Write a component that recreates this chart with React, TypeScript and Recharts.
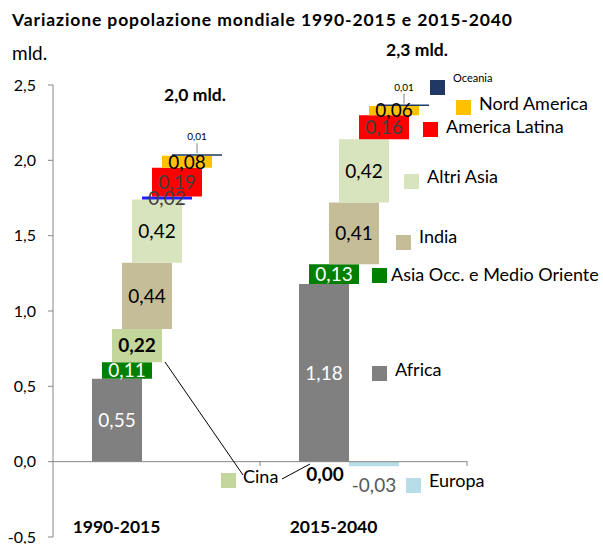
import React from "react";
import { BarChart, Bar, XAxis, YAxis, ReferenceLine, LabelList, Cell } from "recharts";

const categories = ["1990-2015", "2015-2040"];
const regions = [
  "Africa",
  "Asia Occ. e Medio Oriente",
  "Cina",
  "India",
  "Altri Asia",
  "Europa",
  "America Latina",
  "Nord America",
  "Oceania",
];
const africa = [0.55, 1.18];
const asiaOcc = [0.11, 0.13];
const cina = [0.22, 0.0];
const india = [0.44, 0.41];
const altriAsia = [0.42, 0.42];
const europa = [0.02, -0.03];
const americaLatina = [0.19, 0.16];
const nordAmerica = [0.08, 0.06];
const oceania = [0.01, 0.01];
const totals = [2.0, 2.3];
const yTicks = [-0.5, 0, 0.5, 1, 1.5, 2, 2.5];

const seriesValues = [africa, asiaOcc, cina, india, altriAsia, europa, americaLatina, nordAmerica, oceania];
const seriesKeys = ["africa", "asiaOcc", "cina", "india", "altriAsia", "europa", "americaLatina", "nordAmerica", "oceania"];
const colors = ["#808080", "#008000", "#C3D69B", "#C4BD97", "#D7E4BD", "#B7DEE8", "#FF0000", "#FFC000", "#1F3864"];
const europaColors = ["#1F1FFF", "#B7DEE8"];
const labelColors = ["#FFFFFF", "#FFFFFF", "#000000", "#000000", "#000000", "#404040", "#404040", "#000000", "#000000"];

const FONT = "Lato, 'DejaVu Sans', sans-serif";
const fmt = (v: number, d = 2) => v.toFixed(d).replace(".", ",");

const data = categories.map((cat, ci) => {
  const row: any = { cat };
  let cum = 0;
  seriesValues.forEach((vals, si) => {
    const v = vals[ci];
    if (v < 0) row[seriesKeys[si]] = [v, 0];
    else {
      row[seriesKeys[si]] = [cum, cum + v];
      cum += v;
    }
  });
  return row;
});

const makeLabel = (si: number) => (props: any) => {
  const { x, y, width, height, index } = props;
  const v = seriesValues[si][index];
  const cx = x + width / 2;
  const top = Math.min(y, y + height);
  const bottom = Math.max(y, y + height);
  const cy = (top + bottom) / 2;
  if (v === 0) return null;
  if (si === 8) {
    return (
      <g>
        <line x1={cx} y1={top - 11} x2={cx} y2={top - 1} stroke="#808080" strokeWidth={1} />
        <text x={cx} y={top - 14} textAnchor="middle" fontSize={10} fontFamily={FONT} fill="#000">
          {fmt(v)}
        </text>
      </g>
    );
  }
  if (v < 0) {
    return (
      <text x={cx} y={bottom + 26} textAnchor="middle" fontSize={19} fontFamily={FONT} fill="#595959">
        {fmt(v)}
      </text>
    );
  }
  return (
    <text
      x={cx}
      y={cy}
      dy="0.36em"
      textAnchor="middle"
      fontSize={19}
      fontWeight={si === 2 ? "bold" : "normal"}
      fontFamily={FONT}
      fill={labelColors[si]}
    >
      {fmt(v)}
    </text>
  );
};

const catOffsets = [-40, -30];
const CatTick = (props: any) => {
  const { x, payload, index } = props;
  return (
    <text x={x + catOffsets[index]} y={533} textAnchor="middle" fontSize={17.5} fontWeight="bold" fontFamily={FONT} fill="#000">
      {payload.value}
    </text>
  );
};

// legend entries: [square x, square y, text x, text baseline, font size]
const legendPos: number[][] = [
  [372, 366, 395, 376, 18],
  [372, 268, 391, 281, 18],
  [221, 473, 243, 483, 18],
  [396, 235, 419, 243, 18],
  [404, 174, 427, 183, 18],
  [406, 478, 429, 487, 18],
  [423, 122, 446, 133, 18],
  [456, 100, 479, 110, 18],
  [430, 80, 453, 82, 11],
];

export default function App() {
  return (
    <div style={{ position: "absolute", left: 0, top: 0, width: 603, height: 544, background: "#fff" }}>
      <BarChart
        width={603}
        height={544}
        data={data}
        margin={{ top: 85, right: 136, bottom: 0, left: 0 }}
        barSize={50}
        barGap={-40}
      >
        <XAxis dataKey="cat" height={7} axisLine={false} tickLine={false} tick={<CatTick />} interval={0} />
        <YAxis
          domain={[-0.5, 2.5]}
          ticks={yTicks}
          interval={0}
          width={53}
          tickSize={5}
          tickMargin={12}
          tickFormatter={(v: number) => fmt(v, 1)}
          axisLine={{ stroke: "#868686" }}
          tickLine={{ stroke: "#868686" }}
          tick={{ fontSize: 16, fontFamily: FONT, fill: "#000" }}
          allowDataOverflow
        />
        <ReferenceLine y={0} stroke="#868686" strokeWidth={1} />
        {seriesKeys.map((k, si) => (
          <Bar key={k} dataKey={k} fill={colors[si]} isAnimationActive={false}>
            {si === 5 ? data.map((_, ci) => <Cell key={ci} fill={europaColors[ci]} />) : null}
            <LabelList dataKey={k} content={makeLabel(si)} />
          </Bar>
        ))}
      </BarChart>
      <svg width={603} height={544} style={{ position: "absolute", left: 0, top: 0, pointerEvents: "none" }}>
        <text x={12} y={26} fontSize={17.5} fontWeight="bold" fontFamily={FONT} fill="#000" textLength={500} lengthAdjust="spacing">
          Variazione popolazione mondiale 1990-2015 e 2015-2040
        </text>
        <text x={12} y={60} fontSize={19} fontFamily={FONT} fill="#000">
          mld.
        </text>
        <text x={195} y={101} textAnchor="middle" fontSize={17.5} fontWeight="bold" fontFamily={FONT} fill="#000">
          {fmt(totals[0], 1)} mld.
        </text>
        <text x={417} y={56} textAnchor="middle" fontSize={17.5} fontWeight="bold" fontFamily={FONT} fill="#000">
          {fmt(totals[1], 1)} mld.
        </text>
        <text x={325} y={481} textAnchor="middle" fontSize={19} fontWeight="bold" fontFamily={FONT} fill="#000">
          {fmt(cina[1])}
        </text>
        <line x1={260} y1={461} x2={260} y2={466} stroke="#868686" />
        <line x1={467} y1={461} x2={467} y2={466} stroke="#868686" />
        <line x1={165} y1={362} x2={243} y2={475} stroke="#000" strokeWidth={1} />
        <line x1={282} y1={479} x2={310} y2={464} stroke="#000" strokeWidth={1} />
        {regions.map((r, si) => {
          const [sx, sy, tx, ty, fs] = legendPos[si];
          return (
            <g key={r}>
              <rect x={sx} y={sy} width={15} height={15} fill={colors[si]} />
              <text x={tx} y={ty} fontSize={fs} fontFamily={FONT} fill="#000">
                {r}
              </text>
            </g>
          );
        })}
      </svg>
    </div>
  );
}
